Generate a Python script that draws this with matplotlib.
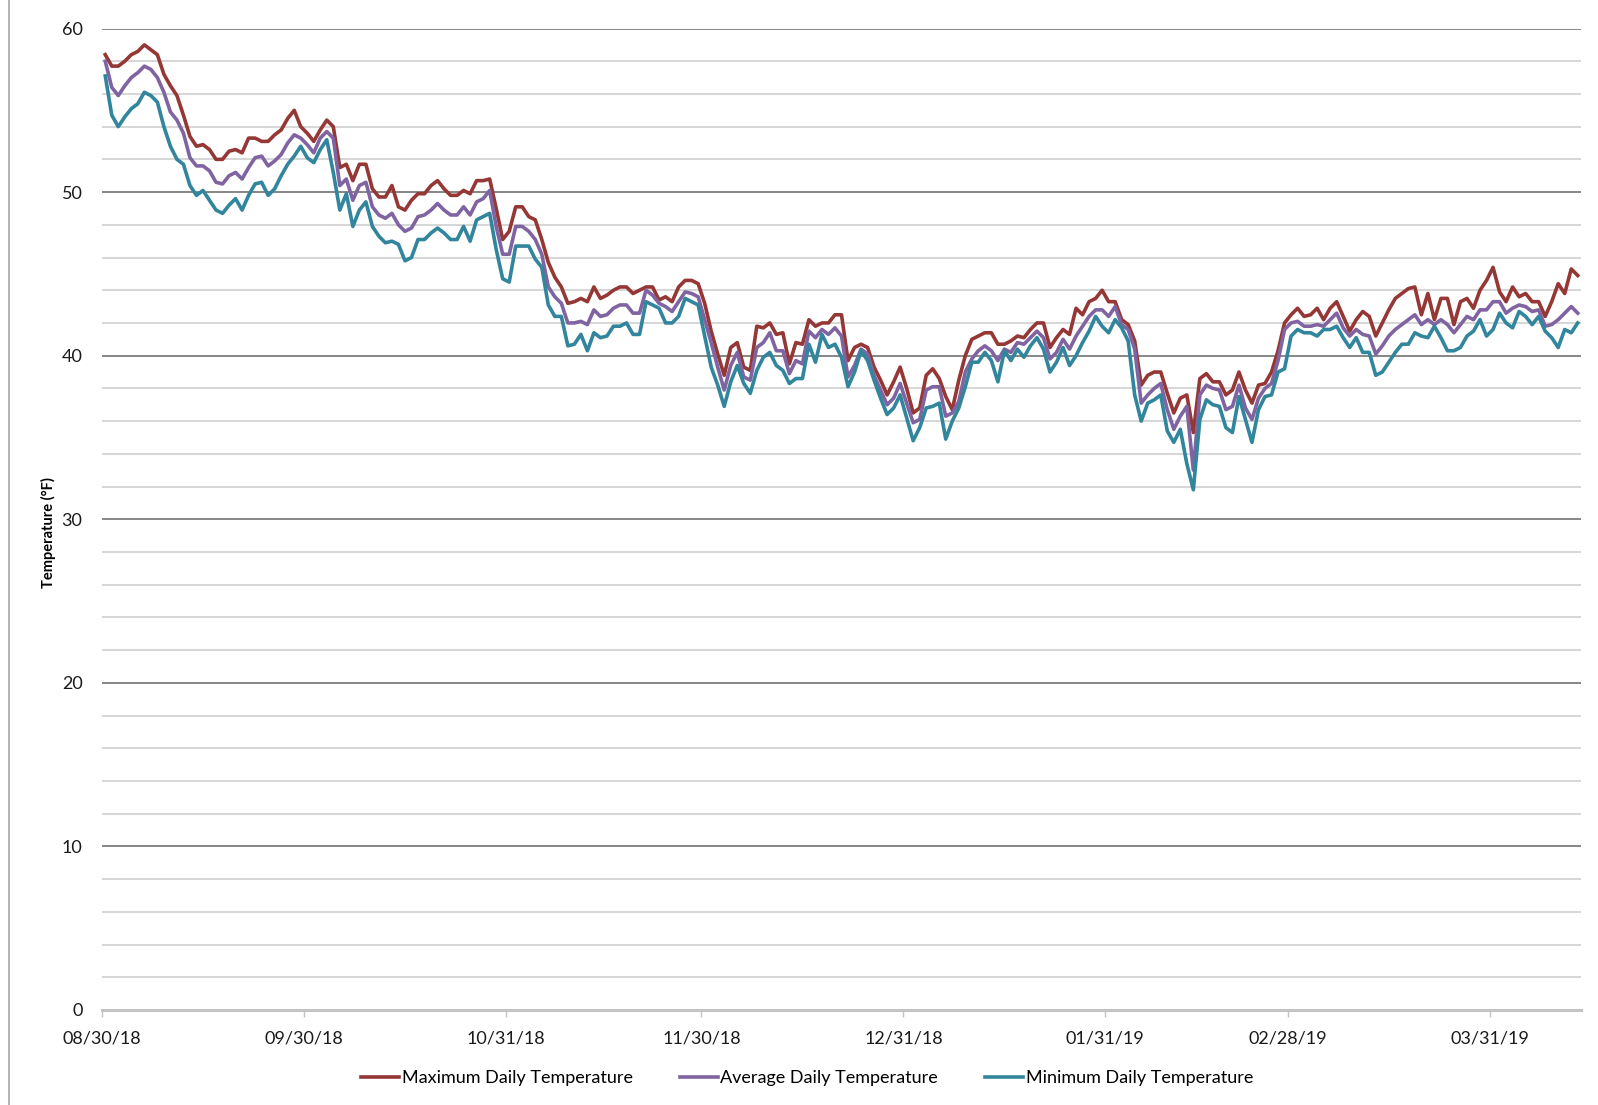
import matplotlib
matplotlib.use('Agg')
import numpy as np
import pandas as pd
import matplotlib.pyplot as plt
import matplotlib.dates as mdates
from matplotlib.ticker import MultipleLocator
from matplotlib.lines import Line2D

plt.rcParams['font.family'] = ['Lato', 'DejaVu Sans']

# daily temperatures, 08/30/18 .. 04/13/19
start = '2018-08-30'

t_max = [58.4, 57.7, 57.7, 58.0, 58.4, 58.6, 59.0, 58.7, 58.4, 57.2,
         56.5, 55.9, 54.7, 53.4, 52.8, 52.9, 52.6, 52.0, 52.0, 52.5,
         52.6, 52.4, 53.3, 53.3, 53.1, 53.1, 53.5, 53.8, 54.5, 55.0,
         54.0, 53.6, 53.1, 53.8, 54.4, 54.0, 51.5, 51.7, 50.7, 51.7,
         51.7, 50.2, 49.7, 49.7, 50.4, 49.1, 48.9, 49.5, 49.9, 49.9,
         50.4, 50.7, 50.2, 49.8, 49.8, 50.1, 49.9, 50.7, 50.7, 50.8,
         49.0, 47.1, 47.6, 49.1, 49.1, 48.5, 48.3, 47.1, 45.7, 44.8,
         44.2, 43.2, 43.3, 43.5, 43.3, 44.2, 43.5, 43.7, 44.0, 44.2,
         44.2, 43.8, 44.0, 44.2, 44.2, 43.4, 43.6, 43.3, 44.2, 44.6,
         44.6, 44.4, 43.2, 41.5, 40.1, 38.8, 40.5, 40.8, 39.3, 39.1,
         41.8, 41.7, 42.0, 41.3, 41.4, 39.5, 40.8, 40.7, 42.2, 41.8,
         42.0, 42.0, 42.5, 42.5, 39.7, 40.5, 40.7, 40.5, 39.3, 38.5,
         37.6, 38.4, 39.3, 38.0, 36.5, 36.8, 38.8, 39.2, 38.6, 37.5,
         36.7, 38.5, 40.0, 41.0, 41.2, 41.4, 41.4, 40.7, 40.7, 40.9,
         41.2, 41.1, 41.6, 42.0, 42.0, 40.5, 41.1, 41.6, 41.3, 42.9,
         42.5, 43.3, 43.5, 44.0, 43.3, 43.3, 42.2, 41.9, 40.9, 38.2,
         38.8, 39.0, 39.0, 37.7, 36.5, 37.4, 37.6, 35.3, 38.6, 38.9,
         38.4, 38.4, 37.6, 37.9, 39.0, 37.9, 37.1, 38.2, 38.3, 39.0,
         40.3, 42.0, 42.5, 42.9, 42.4, 42.5, 42.9, 42.2, 42.9, 43.3,
         42.4, 41.5, 42.2, 42.7, 42.4, 41.2, 42.0, 42.8, 43.5, 43.8,
         44.1, 44.2, 42.5, 43.8, 42.2, 43.5, 43.5, 41.9, 43.3, 43.5,
         42.9, 44.0, 44.6, 45.4, 43.9, 43.3, 44.2, 43.6, 43.8, 43.3,
         43.3, 42.4, 43.3, 44.4, 43.8, 45.3, 44.9]

t_avg = [58.0, 56.4, 55.9, 56.5, 57.0, 57.3, 57.7, 57.5, 57.0, 56.1,
         54.9, 54.4, 53.6, 52.1, 51.6, 51.6, 51.3, 50.6, 50.5, 51.0,
         51.2, 50.8, 51.5, 52.1, 52.2, 51.6, 51.9, 52.3, 53.0, 53.5,
         53.3, 52.9, 52.4, 53.3, 53.7, 53.3, 50.4, 50.8, 49.5, 50.4,
         50.6, 49.1, 48.6, 48.4, 48.7, 48.0, 47.6, 47.8, 48.5, 48.6,
         48.9, 49.3, 48.9, 48.6, 48.6, 49.1, 48.6, 49.4, 49.6, 50.1,
         47.9, 46.2, 46.2, 47.9, 47.9, 47.6, 47.1, 46.2, 44.2, 43.6,
         43.2, 42.0, 42.0, 42.1, 41.9, 42.8, 42.4, 42.5, 42.9, 43.1,
         43.1, 42.6, 42.6, 44.0, 43.7, 43.2, 43.0, 42.7, 43.3, 43.9,
         43.8, 43.6, 42.2, 40.8, 39.3, 37.9, 39.4, 40.2, 38.7, 38.5,
         40.5, 40.8, 41.4, 40.3, 40.3, 38.9, 39.7, 39.5, 41.5, 41.1,
         41.6, 41.3, 41.7, 41.2, 38.7, 39.4, 40.4, 40.1, 38.8, 37.9,
         37.0, 37.4, 38.3, 37.1, 35.9, 36.1, 37.9, 38.1, 38.1, 36.3,
         36.5, 37.2, 39.0, 39.8, 40.3, 40.6, 40.3, 39.7, 40.4, 40.2,
         40.8, 40.7, 41.1, 41.5, 41.1, 39.8, 40.2, 41.0, 40.4, 41.2,
         41.8, 42.4, 42.8, 42.8, 42.4, 43.0, 41.9, 41.6, 40.4, 37.1,
         37.6, 38.0, 38.3, 36.7, 35.5, 36.3, 36.9, 33.0, 37.6, 38.2,
         38.0, 37.9, 36.7, 36.9, 38.2, 36.8, 36.1, 37.4, 38.0, 38.3,
         39.7, 41.6, 42.0, 42.1, 41.8, 41.8, 41.9, 41.8, 42.2, 42.6,
         41.7, 41.2, 41.6, 41.3, 41.2, 40.1, 40.6, 41.2, 41.6, 41.9,
         42.2, 42.5, 41.9, 42.2, 41.9, 42.2, 41.9, 41.4, 41.9, 42.4,
         42.2, 42.8, 42.8, 43.3, 43.3, 42.6, 42.9, 43.1, 43.0, 42.7,
         42.8, 41.8, 41.9, 42.2, 42.6, 43.0, 42.6]

t_min = [57.1, 54.7, 54.0, 54.6, 55.1, 55.4, 56.1, 55.9, 55.5, 54.0,
         52.8, 52.0, 51.7, 50.4, 49.8, 50.1, 49.5, 48.9, 48.7, 49.2,
         49.6, 48.9, 49.8, 50.5, 50.6, 49.8, 50.2, 51.0, 51.7, 52.2,
         52.8, 52.1, 51.8, 52.6, 53.2, 51.2, 48.9, 49.9, 47.9, 48.9,
         49.4, 47.9, 47.3, 46.9, 47.0, 46.8, 45.8, 46.0, 47.1, 47.1,
         47.5, 47.8, 47.5, 47.1, 47.1, 47.9, 47.0, 48.3, 48.5, 48.7,
         46.5, 44.7, 44.5, 46.7, 46.7, 46.7, 45.9, 45.4, 43.1, 42.4,
         42.4, 40.6, 40.7, 41.3, 40.3, 41.4, 41.1, 41.2, 41.8, 41.8,
         42.0, 41.3, 41.3, 43.3, 43.1, 42.9, 42.0, 42.0, 42.4, 43.5,
         43.3, 43.1, 41.2, 39.3, 38.2, 36.9, 38.4, 39.4, 38.3, 37.7,
         39.1, 39.9, 40.2, 39.4, 39.1, 38.3, 38.6, 38.6, 40.7, 39.6,
         41.3, 40.5, 40.7, 39.9, 38.1, 39.0, 40.3, 39.7, 38.5, 37.4,
         36.4, 36.8, 37.6, 36.2, 34.8, 35.6, 36.8, 36.9, 37.1, 34.9,
         36.0, 36.8, 38.1, 39.6, 39.6, 40.2, 39.7, 38.4, 40.3, 39.7,
         40.4, 39.9, 40.6, 41.1, 40.4, 39.0, 39.6, 40.5, 39.4, 40.0,
         40.8, 41.5, 42.4, 41.8, 41.4, 42.2, 41.7, 40.9, 37.6, 36.0,
         37.1, 37.3, 37.6, 35.4, 34.7, 35.5, 33.4, 31.8, 36.1, 37.3,
         37.0, 36.9, 35.6, 35.3, 37.5, 36.1, 34.7, 36.7, 37.5, 37.6,
         39.0, 39.2, 41.2, 41.6, 41.4, 41.4, 41.2, 41.6, 41.6, 41.8,
         41.1, 40.5, 41.1, 40.2, 40.2, 38.8, 39.0, 39.6, 40.2, 40.7,
         40.7, 41.4, 41.2, 41.1, 41.8, 41.1, 40.3, 40.3, 40.5, 41.2,
         41.5, 42.2, 41.2, 41.6, 42.6, 42.0, 41.7, 42.7, 42.4, 41.9,
         42.4, 41.5, 41.1, 40.5, 41.6, 41.4, 42.0]

tick_dates = ['2018-08-30', '2018-09-30', '2018-10-31', '2018-11-30',
              '2018-12-31', '2019-01-31', '2019-02-28', '2019-03-31']

series = [('Maximum Daily Temperature', t_max, '#953735'),
          ('Average Daily Temperature', t_avg, '#8064A2'),
          ('Minimum Daily Temperature', t_min, '#31859C')]

# each day is drawn in the middle of its slot on the date axis
days = pd.date_range(start, periods=len(t_max), freq='D') + pd.Timedelta(hours=12)

fig = plt.figure(figsize=(15.98, 11.05), dpi=100)
ax = fig.add_axes([102 / 1598, 1 - 1010 / 1105, (1581 - 102) / 1598, (1010 - 28.5) / 1105])

for name, vals, col in series:
    ax.plot(days, vals, color=col, lw=2.6, label=name, solid_joinstyle='round')

ax.set_ylim(0, 60)
ax.set_xlim(pd.Timestamp(start), pd.Timestamp(start) + pd.Timedelta(days=len(t_max)))
ax.yaxis.set_major_locator(MultipleLocator(10))
ax.yaxis.set_minor_locator(MultipleLocator(2))
ax.grid(which='major', axis='y', color='#868686', lw=1.4)
ax.grid(which='minor', axis='y', color='#d0d0d0', lw=1.2)
ax.set_axisbelow(True)

ax.set_xticks(pd.to_datetime(tick_dates))
ax.xaxis.set_major_formatter(mdates.DateFormatter('%m/%d/%y'))
ax.xaxis.set_minor_locator(plt.NullLocator())

for s in ['top', 'right', 'left']:
    ax.spines[s].set_visible(False)
ax.spines['bottom'].set_color('#c4c4c4')
ax.spines['bottom'].set_linewidth(2.2)

ax.tick_params(axis='y', which='both', length=0, pad=14, labelsize=13, labelcolor='#1a1a1a')
ax.tick_params(axis='x', length=5, width=1, color='#c4c4c4', pad=9.5, labelsize=13, labelcolor='#1a1a1a')

ax.set_ylabel('Temperature (°F)', fontsize=10.5, fontweight='bold', labelpad=4, y=0.486)

fig.legend(loc='center', bbox_to_anchor=(0.505, 1 - 1078 / 1105), ncol=3, frameon=False,
           fontsize=13, handlelength=2.1, handletextpad=0.15, columnspacing=2.6)

# outer chart border on the left
fig.add_artist(Line2D([9 / 1598, 9 / 1598], [0, 1], color='#a6a6a6', lw=1.2))

fig.savefig('out.png', dpi=100)
